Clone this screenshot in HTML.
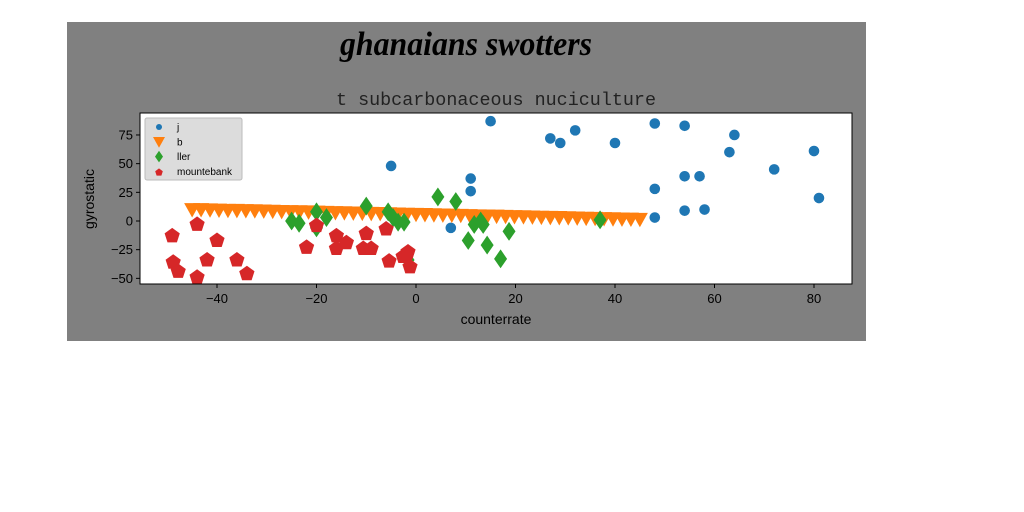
<!DOCTYPE html>
<html><head><meta charset="utf-8">
<style>
html,body{margin:0;padding:0;background:#fff;width:1024px;height:512px;overflow:hidden}
svg{display:block}
</style></head>
<body>
<svg id="chart" width="1024" height="512" xmlns="http://www.w3.org/2000/svg">
<rect x="67" y="22" width="799" height="319" fill="#808080"/>
<text x="466" y="55" text-anchor="middle" font-family="Liberation Serif, serif" font-style="italic" font-weight="bold" font-size="34" fill="#000" textLength="252" lengthAdjust="spacingAndGlyphs">ghanaians swotters</text>
<text x="496" y="105" text-anchor="middle" font-family="Liberation Mono, monospace" font-size="18" fill="#222" textLength="320" lengthAdjust="spacingAndGlyphs">t subcarbonaceous nuciculture</text>
<rect x="140" y="113" width="712" height="171" fill="#fff"/>
<g id="marks"></g>
<rect x="140" y="113" width="712" height="171" fill="none" stroke="#000" stroke-width="1"/>
<g id="axes" font-family="Liberation Sans, sans-serif" font-size="13" fill="#000"></g>
<text x="496" y="324" text-anchor="middle" font-family="Liberation Sans, sans-serif" font-size="14">counterrate</text>
<text transform="translate(94,199) rotate(-90)" text-anchor="middle" font-family="Liberation Sans, sans-serif" font-size="14">gyrostatic</text>
<g id="legend">
<rect x="145" y="118" width="97" height="62" rx="2" fill="#dcdcdc" stroke="#bbb"/>
</g>
</svg>
<script>
const xTicks=[-40,-20,0,20,40,60,80];
const yTicks=[-50,-25,0,25,50,75];
const jX=[-5,7,11,11,15,27,29,32,40,48,48,48,54,54,57,54,58,63,64,72,80,81];
const jY=[48,-6,37,26,87,72,68,79,68,85,28,3,83,39,39,9,10,60,75,45,61,20];
const bX=[-45,-43.2,-41.4,-39.6,-37.8,-36,-34.2,-32.4,-30.6,-28.8,-27,-25.2,-23.4,-21.6,-19.8,-18,-16.2,-14.4,-12.6,-10.8,-9,-7.2,-5.4,-3.6,-1.8,0,1.8,3.6,5.4,7.2,9,10.8,12.6,14.4,16.2,18,19.8,21.6,23.4,25.2,27,28.8,30.6,32.4,34.2,36,37.8,39.6,41.4,43.2,45];
const bY=[10,10,9.8,9.6,9.4,9.3,9.1,9,8.8,8.6,8.4,8.3,8.1,8,7.8,7.6,7.4,7.3,7.1,6.9,6.7,6.6,6.4,6.2,6,5.9,5.7,5.5,5.3,5.2,5,4.8,4.6,4.5,4.3,4.1,3.9,3.8,3.6,3.4,3.2,3.1,2.9,2.7,2.5,2.4,2.2,2,1.8,1.7,1.5];
const llerX=[-25,-23.5,-20,-20,-18,-10,-5.6,-4.6,-2.4,-3.6,-1.6,4.4,8,10.5,11.7,13,13.5,14.3,17,18.7,37];
const llerY=[0,-2,8,-6,3,13,8,3,-1,-1,-34,21,17,-17,-3,0,-3,-21,-33,-9,1];
const mX=[-49,-48.8,-47.8,-44,-44,-42,-40,-36,-34,-22,-20,-16,-16,-14,-10.6,-10,-9,-6,-5.4,-2.6,-1.6,-1.2,-1.8];
const mY=[-13,-36,-44,-49,-3,-34,-17,-34,-46,-23,-4,-13,-24,-19,-24,-11,-24,-7,-35,-31,-27,-40,-29];

const NS='http://www.w3.org/2000/svg';
const sx=v=>416+v*4.975;
const sy=v=>221-v*1.147;
const marks=document.getElementById('marks');
const axes=document.getElementById('axes');
const legend=document.getElementById('legend');
function mk(tag,attrs,parent){const e=document.createElementNS(NS,tag);for(const k in attrs)e.setAttribute(k,attrs[k]);parent.appendChild(e);return e;}
function tri(x,y,s){return `${x-s},${y-s*0.8} ${x+s},${y-s*0.8} ${x},${y+s*1.0}`;}
function dia(x,y,s){return `${x},${y-s*1.45} ${x+s},${y} ${x},${y+s*1.45} ${x-s},${y}`;}
function pent(x,y,r){let p=[];for(let i=0;i<5;i++){const a=-Math.PI/2+i*2*Math.PI/5;p.push((x+r*Math.cos(a)).toFixed(1)+','+(y+r*Math.sin(a)).toFixed(1));}return p.join(' ');}

for(let i=0;i<jX.length;i++){const e=mk('circle',{cx:sx(jX[i]),cy:sy(jY[i]),r:5.3,fill:'#1f77b4'},marks);

}
for(let i=0;i<bX.length;i++){const e=mk('polygon',{points:tri(sx(bX[i]),sy(bY[i]),8),fill:'#ff7f0e'},marks);

}
for(let i=0;i<llerX.length;i++){const e=mk('polygon',{points:dia(sx(llerX[i]),sy(llerY[i]),6.5),fill:'#2ca02c'},marks);

}
for(let i=0;i<mX.length;i++){const e=mk('polygon',{points:pent(sx(mX[i]),sy(mY[i]),8),fill:'#d62728'},marks);

}

xTicks.forEach(t=>{const x=sx(t);
const l=mk('line',{x1:x,x2:x,y1:284,y2:288,stroke:'#000'},axes);


const tx=mk('text',{x:x,y:303,'text-anchor':'middle'},axes);tx.textContent=(t<0?'\u2212'+(-t):t);

});
yTicks.forEach(t=>{const y=sy(t);
const l=mk('line',{x1:136,x2:140,y1:y,y2:y,stroke:'#000'},axes);


const tx=mk('text',{x:133,y:y+4.5,'text-anchor':'end'},axes);tx.textContent=(t<0?'\u2212'+(-t):t);

});

const leg=[['j','c'],['b','t'],['ller','d'],['mountebank','p']];
leg.forEach((L,i)=>{const y=127+i*14.8;const x=159;
if(L[1]=='c')mk('circle',{cx:x,cy:y,r:3,fill:'#1f77b4'},legend);
if(L[1]=='t')mk('polygon',{points:tri(x,y,6),fill:'#ff7f0e'},legend);
if(L[1]=='d')mk('polygon',{points:dia(x,y,4),fill:'#2ca02c'},legend);
if(L[1]=='p')mk('polygon',{points:pent(x,y+1,4),fill:'#d62728'},legend);
const t=mk('text',{x:177,y:y+3.5,'font-family':'Liberation Sans, sans-serif','font-size':'10',fill:'#000'},legend);t.textContent=L[0];

});
</script>
</body></html>
